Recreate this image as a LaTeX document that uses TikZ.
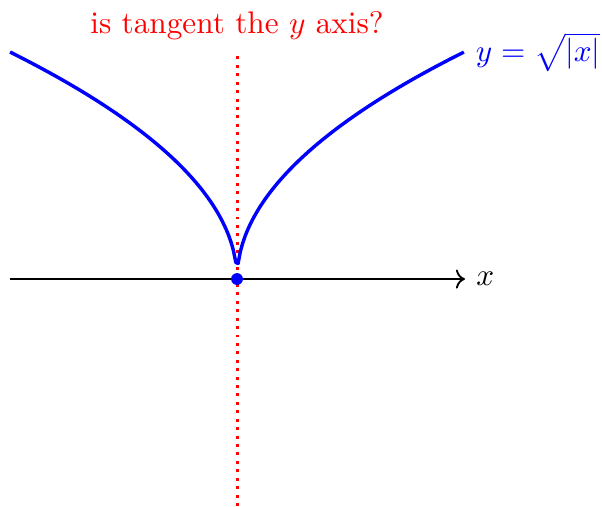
\documentclass[tikz,border=0pt]{standalone}
\usetikzlibrary{arrows.meta,calc}

\begin{document}
\begin{tikzpicture}[line join=round]
    \useasboundingbox (-2.669,-2.556) rectangle (4.110,3.142);
    \coordinate (o) at (0,0);
    \coordinate (xl) at (-2.556,0);
    \coordinate (xr) at (2.567,0);
    \coordinate (vt) at (0,2.556);
    \coordinate (vb) at (0,-2.556);
    \draw[red,line width=0.95pt,dash pattern=on 0.95pt off 1.75pt] (vb) -- (vt) node[above] (ask) {is tangent the $y$ axis?};
    \draw[semithick,->] (xl) -- (xr) node[right] (xlab) {$x$};
    \draw[blue,line width=1.1pt] plot[domain=-2.556:2.556,samples=200] (\x,{sqrt(2.556*abs(\x))})
      node[right] (flab) {$y=\sqrt{|x|}$};
    \fill[blue] (o) circle (1.9pt);
  \end{tikzpicture}
\end{document}
